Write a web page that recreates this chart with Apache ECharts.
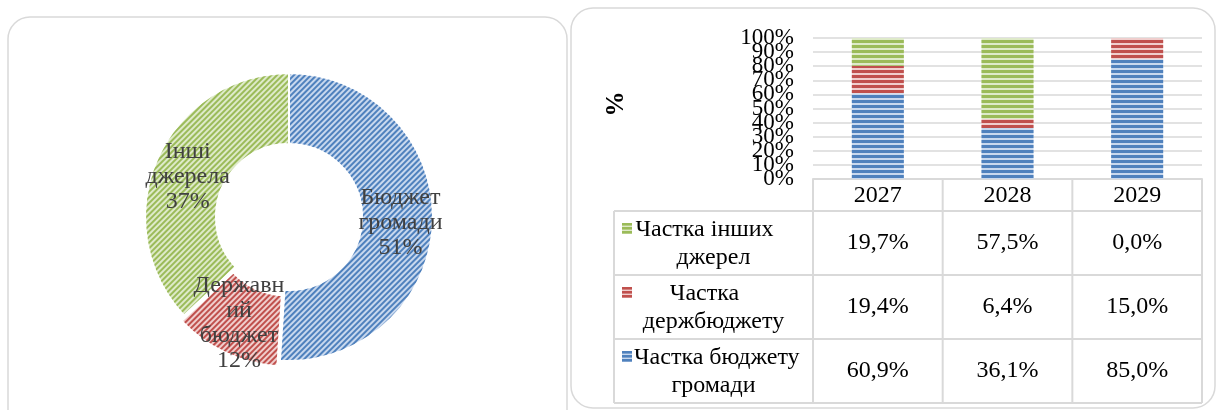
<!DOCTYPE html>
<html><head><meta charset="utf-8">
<script src="https://cdn.jsdelivr.net/npm/echarts@6/dist/echarts.min.js"></script>
<style>html,body{margin:0;padding:0;background:#fff}#c{width:1219px;height:410px}</style>
</head><body><div id="c"></div>
<script>
// ---- data ----
const pieNames = ['Бюджет\nгромади', 'Державн\nий\nбюджет', 'Інші\nджерела'];
const pieValues = [51, 12, 37];
const years = ['2027', '2028', '2029'];
const shareCommunity = [60.9, 36.1, 85.0];
const shareState = [19.4, 6.4, 15.0];
const shareOther = [19.7, 57.5, 0.0];
const rowLabelsOther = ['Частка інших', 'джерел'];
const rowLabelsState = ['Частка', 'держбюджету'];
const rowLabelsCommunity = ['Частка бюджету', 'громади'];
const yAxisTitle = '%';

// ---- style ----
const FONT = 'Liberation Serif';
const TFS = 24; // table font size
const DARK = {blue: '#4f81bd', red: '#c0504d', green: '#9bbb59'};
const LIGHT = {blue: '#c8d8ee', red: '#f0cecd', green: '#deeac9'};
const GRID_L = 813, GRID_R = 1202, GRID_T = 38, GRID_B = 179;
const COLW = (GRID_R - GRID_L) / 3;
const TAB_L = 614, HEAD_B = 211, ROW_H = 64;
const pieLabelOffsets = [[0, 2], [2, -6], [1, 4]];

function decal(color, rot, dashY) {
  return {symbol: 'rect', symbolSize: 1, color: color, dashArrayX: [1, 0], dashArrayY: dashY, rotation: rot};
}
const pieKeys = ['blue', 'red', 'green'];

const chart = echarts.init(document.getElementById('c'), null, {renderer: 'canvas'});

const measure = document.createElement('canvas').getContext('2d');
measure.font = TFS + 'px "' + FONT + '"';
function fmt(v) { return v.toFixed(1).replace('.', ',') + '%'; }
function txt(x, y, text) {
  return {type: 'text', x: x, y: y, style: {text: text, fontFamily: FONT, fontSize: TFS, fill: '#000', align: 'center', verticalAlign: 'middle'}};
}

const graphics = [];
graphics.push({type: 'rect', z: -10, shape: {x: 8, y: 17, width: 559, height: 420, r: 22}, style: {fill: '#fff', stroke: '#d9d9d9', lineWidth: 1.5}});
graphics.push({type: 'rect', z: -10, shape: {x: 571, y: 8, width: 644, height: 400, r: 22}, style: {fill: '#fff', stroke: '#d9d9d9', lineWidth: 1.5}});
graphics.push({type: 'text', x: 617, y: 104, rotation: Math.PI / 2, style: {text: yAxisTitle, fontFamily: FONT, fontWeight: 'bold', fontSize: 25, fill: '#000', align: 'center', verticalAlign: 'middle'}});

const LINE = {stroke: '#d9d9d9', lineWidth: 2};
const tabBottom = HEAD_B + 3 * ROW_H;
for (let i = 0; i <= 3; i++) {
  const x = GRID_L + i * COLW;
  graphics.push({type: 'line', shape: {x1: x, y1: GRID_B, x2: x, y2: tabBottom}, style: LINE});
}
graphics.push({type: 'line', shape: {x1: TAB_L, y1: HEAD_B, x2: TAB_L, y2: tabBottom}, style: LINE});
for (let r = 0; r <= 3; r++) {
  const y = HEAD_B + r * ROW_H;
  graphics.push({type: 'line', shape: {x1: TAB_L, y1: y, x2: GRID_R, y2: y}, style: LINE});
}
const rows = [
  {labels: rowLabelsOther, values: shareOther, key: 'green'},
  {labels: rowLabelsState, values: shareState, key: 'red'},
  {labels: rowLabelsCommunity, values: shareCommunity, key: 'blue'}
];
const cellCx = (TAB_L + GRID_L) / 2;
rows.forEach((row, r) => {
  const top = HEAD_B + r * ROW_H;
  graphics.push({type: 'rect', shape: {x: 622, y: top + 12, width: 10, height: 11}, style: {fill: LIGHT[row.key]}});
  for (let s = 0; s < 3; s++) {
    graphics.push({type: 'rect', shape: {x: 622, y: top + 12 + s * 4, width: 10, height: 2.6}, style: {fill: DARK[row.key]}});
  }
  const w1 = measure.measureText(row.labels[0]).width;
  const cx1 = Math.max(cellCx - 9, 634 + w1 / 2);
  graphics.push(txt(cx1, top + 19, row.labels[0]));
  graphics.push(txt(cellCx, top + 47, row.labels[1]));
  row.values.forEach((v, c) => {
    graphics.push(txt(GRID_L + (c + 0.5) * COLW, top + ROW_H / 2, fmt(v)));
  });
});

function barSeries(name, data, key) {
  return {
    type: 'bar', name: name, stack: 'total', data: data, barWidth: 52, yAxisIndex: 0,
    itemStyle: {color: LIGHT[key], decal: decal(DARK[key], 0, [2.4, 2])},
    emphasis: {disabled: true}, animation: false
  };
}
const yLabel = {fontFamily: FONT, fontSize: 23, color: '#000', margin: 19, hideOverlap: false};

chart.setOption({
  animation: false,
  textStyle: {fontFamily: FONT},
  graphic: graphics,
  grid: {left: GRID_L, top: GRID_T, width: GRID_R - GRID_L, height: GRID_B - GRID_T},
  xAxis: {
    type: 'category', data: years,
    axisLine: {lineStyle: {color: '#d9d9d9', width: 2}},
    axisTick: {show: false},
    axisLabel: {fontFamily: FONT, fontSize: TFS, color: '#000', margin: 5}
  },
  yAxis: [
    {
      type: 'value', position: 'left', min: 0, max: 100, interval: 10,
      axisLabel: Object.assign({formatter: v => (v % 20 === 10 ? v + '%' : ''), showMinLabel: true, showMaxLabel: true}, yLabel),
      axisLine: {show: false}, axisTick: {show: false},
      splitLine: {lineStyle: {color: '#d9d9d9', width: 1.5}}
    },
    {
      type: 'value', position: 'left', min: 0, max: 100, interval: 20,
      axisLabel: Object.assign({formatter: '{value}%', showMinLabel: true, showMaxLabel: true}, yLabel),
      axisLine: {show: false}, axisTick: {show: false}, splitLine: {show: false}
    }
  ],
  series: [
    {
      type: 'pie', center: [289, 217], radius: [73, 144], startAngle: 90, clockwise: true,
      selectedMode: 'single', selectedOffset: 6, avoidLabelOverlap: false,
      itemStyle: {borderColor: '#fff', borderWidth: 2},
      label: {position: 'inside', formatter: p => p.name + '\n' + p.value + '%', fontFamily: FONT, fontSize: 24, lineHeight: 25, color: '#404040'},
      labelLine: {show: false},
      emphasis: {disabled: true},
      data: pieValues.map((v, i) => ({
        name: pieNames[i], value: v, selected: i === 1,
        label: {offset: pieLabelOffsets[i]},
        itemStyle: {color: LIGHT[pieKeys[i]], decal: decal(DARK[pieKeys[i]], -Math.PI / 4, [1.2, 1.8])}
      }))
    },
    barSeries('Частка бюджету громади', shareCommunity, 'blue'),
    barSeries('Частка держбюджету', shareState, 'red'),
    barSeries('Частка інших джерел', shareOther, 'green')
  ]
});
</script></body></html>
